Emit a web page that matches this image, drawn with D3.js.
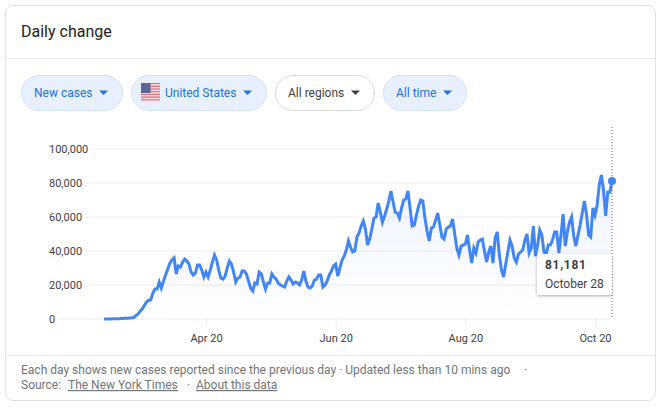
<!DOCTYPE html>
<html>
<head>
<meta charset="utf-8">
<script src="https://cdn.jsdelivr.net/npm/d3@7"></script>
<style>
  html, body { margin: 0; padding: 0; background: #fff; overflow: hidden; }
  text { font-family: Roboto, sans-serif; }
</style>
</head>
<body>
<div id="chart"></div>
<script>
// first day of the series, one value per day after that
var firstDay = "2020-03-03";
var dailyCases = [
  30,30,50,70,80,100,150,200,250,300,400,500,600,700,900,
  2000,3000,4500,5900,8000,10000,10900,11200,15300,17600,17600,21700,18200,22300,25900,
  29400,32900,34700,35900,26500,31200,30600,33500,35300,34100,32300,27600,25900,27000,
  31800,31800,28800,24700,27600,24700,28800,33500,37600,34700,28800,24100,23500,25300,
  30000,34100,32300,27600,21800,24100,24700,28200,28200,26500,22300,18200,16500,21200,
  20600,27600,26500,21800,17600,21200,21200,26500,24700,23500,21200,20000,19400,18800,
  22300,24700,22900,20600,21800,21200,20000,22900,28200,22300,18800,18200,19400,22900,
  23500,25900,25900,18800,20000,22300,25900,28200,31200,32300,25300,30000,34700,37000,
  40600,45900,42300,39400,40000,48200,50600,54700,57600,52900,43500,47000,52900,59400,
  60000,68200,62900,57000,60600,64700,69400,75300,68800,62900,62300,59400,65300,70000,
  70600,75300,65300,54700,55300,61200,66400,70000,69400,59400,51800,45900,53500,54100,
  58200,62300,55300,48200,47000,52900,54100,54700,58800,50000,41700,37600,42900,43500,
  44100,49400,40600,32900,41700,38800,45300,46400,47000,40000,33500,39400,42900,32900,
  47600,51200,37600,28800,24700,32300,39400,46400,42900,35900,33500,38200,39400,40600,
  46400,50000,38800,41700,54700,37000,43500,52300,49400,39400,38200,43500,43500,46400,
  51200,51200,38800,49400,61700,42900,51200,57000,60000,48800,42900,49400,55300,62300,
  69400,61700,49400,48200,65300,61200,67000,78800,84700,75900,60600,74700,74700,81181
];
var yTicks = [0, 20000, 40000, 60000, 80000, 100000];
var xTicks = ["2020-04-20", "2020-06-20", "2020-08-20", "2020-10-20"];
var chips = [
  {label: "New cases", x0: 21, x1: 123, on: true},
  {label: "United States", x0: 131, x1: 267, on: true, flag: true},
  {label: "All regions", x0: 275, x1: 375, on: false},
  {label: "All time", x0: 383, x1: 467, on: true}
];
var tipValue = "81,181";
var tipDate = "October 28";

var parseDay = d3.timeParse("%Y-%m-%d");
var start = parseDay(firstDay);
var data = dailyCases.map(function(v, i) {
  return {date: d3.timeDay.offset(start, i), value: v};
});
var last = data[data.length - 1];

var svg = d3.select("#chart").append("svg")
    .attr("width", 664)
    .attr("height", 409)
    .style("display", "block");

// card
svg.append("rect")
    .attr("x", 5.5).attr("y", 5.5)
    .attr("width", 650).attr("height", 395)
    .attr("rx", 8)
    .attr("fill", "#fff")
    .attr("stroke", "#dfe1e5");
svg.append("line").attr("x1", 6).attr("x2", 655).attr("y1", 58.5).attr("y2", 58.5).attr("stroke", "#e8eaed");
svg.append("line").attr("x1", 6).attr("x2", 655).attr("y1", 355.5).attr("y2", 355.5).attr("stroke", "#e8eaed");

svg.append("text")
    .attr("x", 21).attr("y", 37)
    .attr("font-size", 16)
    .attr("fill", "#202124")
    .text("Daily change");

// chips
var chip = svg.selectAll("g.chip").data(chips).enter().append("g").attr("class", "chip");
chip.append("rect")
    .attr("x", function(d) { return d.x0 + 0.5; })
    .attr("y", 75.5)
    .attr("width", function(d) { return d.x1 - d.x0 - 1; })
    .attr("height", 35)
    .attr("rx", 17.5)
    .attr("fill", function(d) { return d.on ? "#e8f0fe" : "#fff"; })
    .attr("stroke", function(d) { return d.on ? "#d2e3fc" : "#dadce0"; });
chip.append("text")
    .attr("x", function(d) { return d.x0 + (d.flag ? 34 : 13); })
    .attr("y", 97)
    .attr("font-size", 12)
    .attr("fill", function(d) { return d.on ? "#1a73e8" : "#3c4043"; })
    .text(function(d) { return d.label; });
chip.append("path")
    .attr("d", function(d) {
      return "M" + (d.x1 - 24) + ",90.5h9l-4.5,4.5z";
    })
    .attr("fill", function(d) { return d.on ? "#1a73e8" : "#3c4043"; });

// flag
var flag = svg.append("g").attr("transform", "translate(141,83)");
d3.range(7).forEach(function(i) {
  flag.append("rect").attr("x", 0).attr("y", i * 2.7).attr("width", 19).attr("height", 1.4).attr("fill", "#d8707a");
  flag.append("rect").attr("x", 0).attr("y", i * 2.7 + 1.4).attr("width", 19).attr("height", 1.3).attr("fill", "#f3dfe0");
});
flag.append("rect").attr("width", 9.5).attr("height", 10).attr("fill", "#5c6596");

// scales
var x = d3.scaleTime()
    .domain([parseDay(xTicks[0]), parseDay(xTicks[3])])
    .range([206, 595]);
var y = d3.scaleLinear()
    .domain([0, 100000])
    .range([319, 149]);

// y axis, labels are left aligned and the grid starts after them
var yAxis = svg.append("g")
    .attr("transform", "translate(49,0)")
    .call(d3.axisLeft(y).tickValues(yTicks).tickSize(0).tickFormat(d3.format(",")));
yAxis.select(".domain").remove();
yAxis.selectAll("text")
    .attr("x", 0)
    .attr("text-anchor", "start")
    .attr("font-size", 11)
    .attr("font-family", "Roboto, sans-serif")
    .attr("fill", "#3c4043");
yAxis.selectAll("text").each(function(d) {
  var w = this.getComputedTextLength();
  svg.insert("line", "g.chip")
      .attr("x1", 49 + w + 4).attr("x2", 612)
      .attr("y1", y(d)).attr("y2", y(d))
      .attr("stroke", "#f3f3f3")
      .attr("stroke-width", 1.5);
});

// x axis
var xAxis = svg.append("g")
    .attr("transform", "translate(0,319)")
    .call(d3.axisBottom(x)
      .tickValues(xTicks.map(parseDay))
      .tickSize(7)
      .tickPadding(8)
      .tickFormat(d3.timeFormat("%b %d")));
xAxis.select(".domain").remove();
xAxis.selectAll("line").attr("stroke", "#e8eaed");
xAxis.selectAll("text")
    .attr("font-size", 11)
    .attr("font-family", "Roboto, sans-serif")
    .attr("fill", "#3c4043");

// area under the line
var defs = svg.append("defs");
var grad = defs.append("linearGradient")
    .attr("id", "fade")
    .attr("x1", 0).attr("x2", 0).attr("y1", 0).attr("y2", 1);
grad.append("stop").attr("offset", "0%").attr("stop-color", "#4285f4").attr("stop-opacity", 0.1);
grad.append("stop").attr("offset", "100%").attr("stop-color", "#4285f4").attr("stop-opacity", 0);

var area = d3.area()
    .x(function(d) { return x(d.date); })
    .y0(y(0))
    .y1(function(d) { return y(d.value); });
var line = d3.line()
    .x(function(d) { return x(d.date); })
    .y(function(d) { return y(d.value); });

svg.append("path").datum(data).attr("d", area).attr("fill", "url(#fade)");
svg.append("path").datum(data)
    .attr("d", line)
    .attr("fill", "none")
    .attr("stroke", "#4285f4")
    .attr("stroke-width", 3)
    .attr("stroke-linejoin", "miter")
    .attr("stroke-miterlimit", 4);

// hover marker
svg.append("line")
    .attr("x1", x(last.date)).attr("x2", x(last.date))
    .attr("y1", 127).attr("y2", 319)
    .attr("stroke", "#5f6368")
    .attr("stroke-dasharray", "1,2");
svg.append("circle")
    .attr("cx", x(last.date)).attr("cy", y(last.value))
    .attr("r", 4)
    .attr("fill", "#4285f4");

// tooltip
var shadow = defs.append("filter").attr("id", "tipShadow")
    .attr("x", "-20%").attr("y", "-20%").attr("width", "140%").attr("height", "150%");
shadow.append("feDropShadow")
    .attr("dx", 0).attr("dy", 1).attr("stdDeviation", 1.5)
    .attr("flood-color", "#000").attr("flood-opacity", 0.3);
svg.append("rect")
    .attr("x", 537).attr("y", 254)
    .attr("width", 75).attr("height", 41)
    .attr("rx", 2)
    .attr("fill", "#fff")
    .attr("filter", "url(#tipShadow)");
svg.append("text")
    .attr("x", 545).attr("y", 269)
    .attr("font-size", 12)
    .attr("font-weight", 700)
    .attr("letter-spacing", 0.7)
    .attr("fill", "#3c4043")
    .text(tipValue);
svg.append("text")
    .attr("x", 545).attr("y", 288)
    .attr("font-size", 12)
    .attr("fill", "#3c4043")
    .text(tipDate);

// footer
var foot = svg.append("g").attr("font-size", 12).attr("fill", "#70757a");
foot.append("text").attr("x", 21).attr("y", 374)
    .text("Each day shows new cases reported since the previous day · Updated less than 10 mins ago");
foot.append("text").attr("x", 524).attr("y", 374).text("·");
foot.append("text").attr("x", 21).attr("y", 389).text("Source:");
foot.append("text").attr("x", 68).attr("y", 389).attr("text-decoration", "underline").text("The New York Times");
foot.append("text").attr("x", 187).attr("y", 389).text("·");
foot.append("text").attr("x", 196).attr("y", 389).attr("text-decoration", "underline").text("About this data");
</script>
</body>
</html>
